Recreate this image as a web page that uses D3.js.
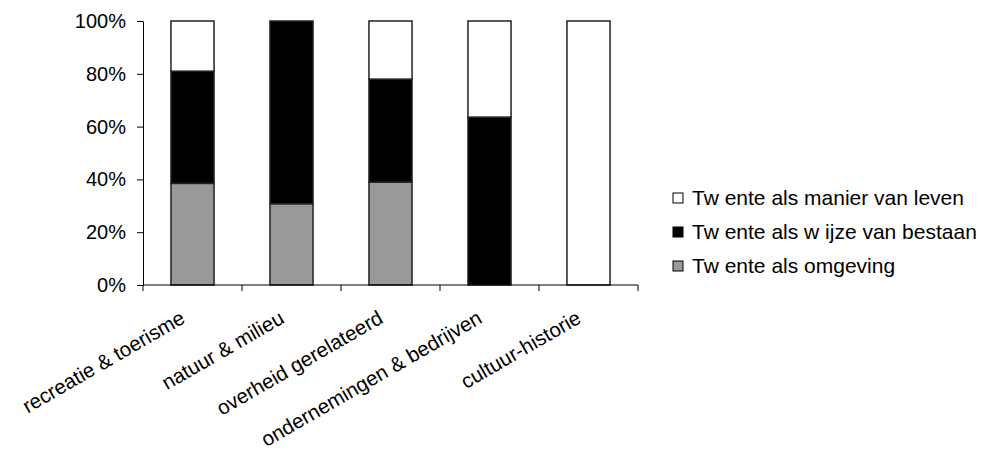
<!DOCTYPE html>
<html>
<head>
<meta charset="utf-8">
<script src="https://cdn.jsdelivr.net/npm/d3@7"></script>
<style>
  html, body { margin: 0; padding: 0; background: #fff; }
  svg { display: block; font-family: "Liberation Sans", Arial, sans-serif; }
</style>
</head>
<body>
<svg id="chart" width="990" height="453"></svg>
<script>
const categories = ["recreatie & toerisme", "natuur & milieu", "overheid gerelateerd", "ondernemingen & bedrijven", "cultuur-historie"];
const omgeving = [38.5, 30.8, 39, 0, 0];
const wijze = [42.5, 69.2, 39, 63.6, 0];
const manier = [19, 0, 22, 36.4, 100];
const seriesNames = ["Tw ente als omgeving", "Tw ente als w ijze van bestaan", "Tw ente als manier van leven"];
const seriesColors = ["#999999", "#000000", "#ffffff"];
const yTicks = [0, 20, 40, 60, 80, 100];

const svg = d3.select("#chart");
const x0 = 143, x1 = 638, yTop = 21, yBot = 285;

const x = d3.scaleBand().domain(categories).range([x0, x1]).paddingInner(0.565).paddingOuter(0.2825);
const xb = d3.scaleBand().domain(categories).range([x0, x1]);
const y = d3.scaleLinear().domain([0, 100]).range([yBot, yTop]);

const rows = categories.map((c, i) => ({ cat: c, s0: omgeving[i], s1: wijze[i], s2: manier[i] }));
const stacked = d3.stack().keys(["s0", "s1", "s2"])(rows);

svg.append("g").selectAll("g").data(stacked).join("g")
  .attr("fill", (d, i) => seriesColors[i])
  .selectAll("rect").data(d => d.filter(p => p[1] - p[0] > 0)).join("rect")
  .attr("x", d => x(d.data.cat))
  .attr("width", x.bandwidth())
  .attr("y", d => y(d[1]))
  .attr("height", d => y(d[0]) - y(d[1]))
  .attr("stroke", "#222")
  .attr("stroke-width", 1.5);

// Y axis
const yAxis = d3.axisLeft(y).tickValues(yTicks).tickFormat(d => d + "%").tickSizeOuter(0).tickSize(6).tickPadding(11);
const gy = svg.append("g").attr("transform", `translate(${x0},0)`).call(yAxis);
gy.selectAll("text").attr("font-size", 20).attr("fill", "#000").attr("font-family", "Liberation Sans, Arial, sans-serif");
gy.selectAll("line, path").attr("stroke", "#000");

// X axis line and ticks at category boundaries
const gx = svg.append("g");
gx.append("line").attr("x1", x0).attr("x2", x1).attr("y1", yBot).attr("y2", yBot).attr("stroke", "#000");
const bounds = categories.map(c => xb(c)).concat([x1]);
gx.selectAll("line.tk").data(bounds).join("line").attr("class", "tk")
  .attr("x1", d => d).attr("x2", d => d).attr("y1", yBot).attr("y2", yBot + 6).attr("stroke", "#000");

gx.selectAll("text").data(categories).join("text")
  .attr("transform", d => `translate(${xb(d) + xb.bandwidth() / 2 - 6},${yBot + 37}) rotate(-30)`)
  .attr("text-anchor", "end")
  .attr("font-size", 20.5)
  .attr("fill", "#000")
  .text(d => d);

// Legend
const legendOrder = [2, 1, 0];
const lg = svg.append("g");
legendOrder.forEach((si, k) => {
  const cy = 198 + k * 34;
  lg.append("rect").attr("x", 673).attr("y", cy - 5).attr("width", 10).attr("height", 10)
    .attr("fill", seriesColors[si]).attr("stroke", "#000").attr("stroke-width", 1);
  lg.append("text").attr("x", 692).attr("y", cy).attr("dy", "0.35em")
    .attr("font-size", 21).attr("fill", "#000").text(seriesNames[si]);
});
</script>
</body>
</html>
